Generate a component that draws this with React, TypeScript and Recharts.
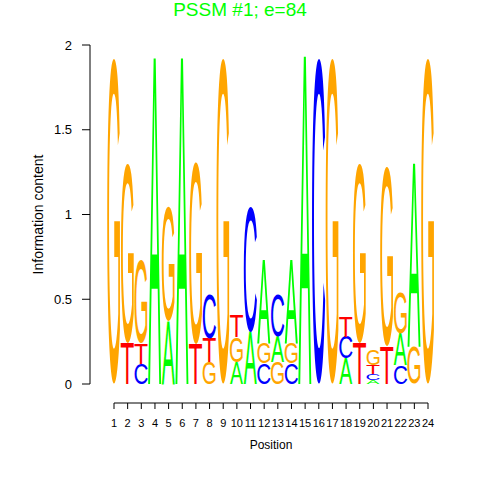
import React from "react";
import { BarChart, Bar, XAxis, YAxis } from "recharts";

// ==================== Data ====================

// letters of every column, bottom -> top
const stackOrder = [
  "G", "TG", "CTG", "A", "AG", "A", "TG", "GTC", "G", "AGT", "AC", "CGA",
  "GAC", "CGA", "A", "C", "G", "ACT", "TG", "ACTG", "TG", "CAG", "GA", "G",
];

// information content (bits) of each letter per position
const heightA = [0, 0, 0, 1.92, 0.37, 1.92, 0, 0, 0, 0.13, 0.31, 0.49, 0.15, 0.49, 1.93, 0, 0, 0.15, 0, 0.025, 0, 0.19, 1.08, 0];
const heightC = [0, 0, 0.12, 0, 0, 0, 0, 0.26, 0, 0, 0.74, 0.12, 0.25, 0.12, 0, 1.92, 0, 0.13, 0, 0.035, 0, 0.11, 0, 0];
const heightG = [1.92, 1.06, 0.49, 0, 0.68, 0, 1.07, 0.13, 1.92, 0.145, 0, 0.12, 0.13, 0.12, 0, 0, 1.92, 0, 1.06, 0.09, 1.06, 0.24, 0.22, 1.92];
const heightT = [0, 0.24, 0.12, 0, 0, 0, 0.23, 0.14, 0, 0.13, 0, 0, 0, 0, 0, 0, 0, 0.12, 0.24, 0.05, 0.22, 0, 0, 0];

const positionTicks = stackOrder.map((_, i) => i + 1);
const yTicks = [0, 0.5, 1, 1.5, 2];

const heights: Record<string, number[]> = { A: heightA, C: heightC, G: heightG, T: heightT };

const letterColors: Record<string, string> = {
  A: "#00ff00",
  C: "#0000ff",
  G: "#ffa500",
  T: "#ff0000",
};

// glyph bounding boxes (em units, Liberation Sans) so a letter fills its slot
const glyphBox: Record<string, { x0: number; x1: number; y0: number; y1: number }> = {
  A: { x0: 0.0, x1: 0.667, y0: 0, y1: 0.688 },
  C: { x0: 0.047, x1: 0.675, y0: -0.011, y1: 0.699 },
  G: { x0: 0.048, x1: 0.716, y0: -0.011, y1: 0.699 },
  T: { x0: 0.023, x1: 0.588, y0: 0, y1: 0.688 },
};

const slots = [0, 1, 2, 3];

const data = stackOrder.map((order, i) => {
  const row: Record<string, any> = { pos: i + 1 };
  slots.forEach((k) => {
    const l = order[k];
    row["s" + k] = l ? heights[l][i] : 0;
    row["l" + k] = l || "";
  });
  return row;
});

// ==================== Letter shape ====================

const FS = 100;

const Letter = (props: any) => {
  const { x, y, width, height, payload, slot } = props;
  const l = payload ? payload["l" + slot] : "";
  if (!l || !height || height <= 0) return <g />;
  const g = glyphBox[l];
  const gw = (g.x1 - g.x0) * FS;
  const gh = (g.y1 - g.y0) * FS;
  return (
    <text
      x={0}
      y={0}
      fontSize={FS}
      fontFamily="'Liberation Sans', Arial, sans-serif"
      fill={letterColors[l]}
      transform={`translate(${x},${y + height}) scale(${width / gw},${height / gh}) translate(${-g.x0 * FS},${g.y0 * FS})`}
    >
      {l}
    </text>
  );
};

const YTitle = (props: any) => {
  const { viewBox } = props;
  const cx = viewBox.x + 8;
  const cy = viewBox.y + viewBox.height / 2;
  return (
    <text
      x={cx}
      y={cy}
      transform={`rotate(-90, ${cx}, ${cy})`}
      textAnchor="middle"
      dominantBaseline="central"
      fontSize={14}
      fill="#000"
    >
      Information content
    </text>
  );
};

// ==================== Component ====================

export default function App() {
  return (
    <div
      style={{
        position: "absolute",
        left: 0,
        top: 0,
        width: 480,
        height: 480,
        background: "#fff",
        fontFamily: "'Liberation Sans', Arial, sans-serif",
      }}
    >
      <div
        style={{
          position: "absolute",
          top: -1,
          left: 0,
          width: 480,
          textAlign: "center",
          fontSize: 19,
          lineHeight: "22px",
          color: "#00ff00",
        }}
      >
        PSSM #1; e=84
      </div>
      <BarChart
        width={480}
        height={480}
        data={data}
        barSize={13}
        margin={{ top: 45, right: 52, bottom: 17, left: 30 }}
      >
        <XAxis
          xAxisId="gap"
          type="number"
          domain={[0, 1]}
          height={19}
          tick={false}
          axisLine={false}
          tickLine={false}
        />
        <XAxis
          xAxisId="x"
          dataKey="pos"
          type="number"
          domain={[1, 24]}
          ticks={positionTicks}
          interval={0}
          height={60}
          tickSize={6}
          tickMargin={10}
          stroke="#000"
          tick={{ fontSize: 11, fill: "#000" }}
          label={{ value: "Position", position: "insideBottom", offset: 14, fontSize: 12, fill: "#000" }}
        />
        <YAxis
          yAxisId="gap"
          type="number"
          domain={[0, 1]}
          width={24}
          tick={false}
          axisLine={false}
          tickLine={false}
        />
        <YAxis
          yAxisId="y"
          type="number"
          domain={[0, 2]}
          ticks={yTicks}
          width={60}
          tickSize={8}
          tickMargin={10}
          stroke="#000"
          tick={{ fontSize: 13, fill: "#000" }}
          label={<YTitle />}
        />
        {slots.map((k) => (
          <Bar
            key={k}
            dataKey={"s" + k}
            stackId="logo"
            xAxisId="x"
            yAxisId="y"
            isAnimationActive={false}
            shape={(p: any) => <Letter {...p} slot={k} />}
          />
        ))}
      </BarChart>
    </div>
  );
}
